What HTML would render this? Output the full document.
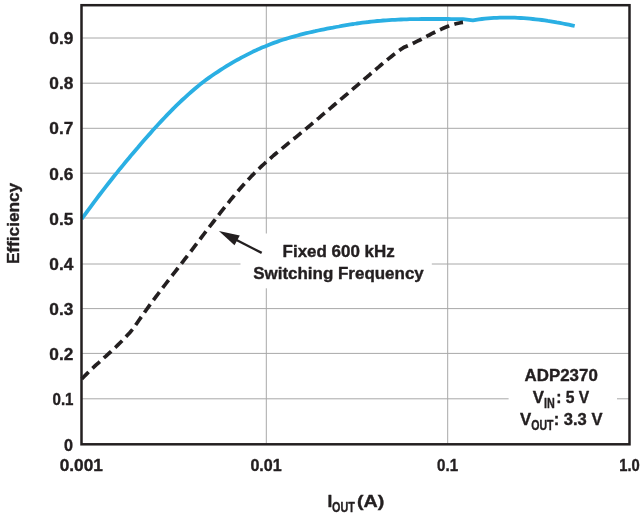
<!DOCTYPE html>
<html lang="en"><head><meta charset="utf-8"><title>ADP2370 Efficiency vs. Output Current</title>
<style>html,body{margin:0;padding:0;background:#fff;}body{width:644px;height:520px;overflow:hidden;}svg{display:block;}</style></head><body>
<svg width="644" height="520" viewBox="0 0 644 520">
<rect width="644" height="520" fill="#fff"/>
<g stroke="#a8a8a8" stroke-width="1" fill="none">
<line x1="81.5" y1="398.8" x2="629.5" y2="398.8"/>
<line x1="81.5" y1="353.4" x2="629.5" y2="353.4"/>
<line x1="81.5" y1="308.6" x2="629.5" y2="308.6"/>
<line x1="81.5" y1="264.0" x2="629.5" y2="264.0"/>
<line x1="81.5" y1="218.0" x2="629.5" y2="218.0"/>
<line x1="81.5" y1="173.2" x2="629.5" y2="173.2"/>
<line x1="81.5" y1="128.3" x2="629.5" y2="128.3"/>
<line x1="81.5" y1="83.2" x2="629.5" y2="83.2"/>
<line x1="81.5" y1="38.0" x2="629.5" y2="38.0"/>
<line x1="266.3" y1="5.2" x2="266.3" y2="444.3"/>
<line x1="447.7" y1="5.2" x2="447.7" y2="444.3"/>
</g>
<rect x="240.5" y="233.5" width="191.3" height="54.8" fill="#fff"/>
<rect x="508.6" y="362" width="108.4" height="72" fill="#fff"/>
<path d="M81.7,219.0 L84.7,214.9 L87.6,210.8 L90.6,206.8 L93.5,202.8 L96.5,198.9 L99.4,195.0 L102.4,191.1 L105.3,187.3 L108.3,183.5 L111.3,179.7 L114.2,176.0 L117.2,172.4 L120.1,168.7 L123.1,165.1 L126.0,161.5 L129.0,158.0 L131.9,154.4 L134.9,150.9 L137.9,147.5 L140.8,144.0 L143.8,140.6 L146.7,137.2 L149.7,133.9 L152.6,130.5 L155.6,127.3 L158.6,124.0 L161.5,120.9 L164.5,117.7 L167.4,114.6 L170.4,111.6 L173.3,108.6 L176.3,105.7 L179.2,102.8 L182.2,100.0 L185.2,97.3 L188.1,94.6 L191.1,92.0 L194.0,89.5 L197.0,87.0 L199.9,84.6 L202.9,82.3 L205.8,80.1 L208.8,77.9 L211.8,75.8 L214.7,73.8 L217.7,71.8 L220.6,69.9 L223.6,68.0 L226.5,66.2 L229.5,64.4 L232.4,62.6 L235.4,60.9 L238.4,59.3 L241.3,57.6 L244.3,56.1 L247.2,54.6 L250.2,53.1 L253.1,51.6 L256.1,50.3 L259.0,48.9 L262.0,47.6 L265.0,46.4 L267.9,45.2 L270.9,44.0 L273.8,42.9 L276.8,41.9 L279.7,40.8 L282.7,39.8 L285.7,38.9 L288.6,38.0 L291.6,37.1 L294.5,36.3 L297.5,35.5 L300.4,34.7 L303.4,33.9 L306.3,33.2 L309.3,32.5 L312.3,31.8 L315.2,31.2 L318.2,30.5 L321.1,29.9 L324.1,29.3 L327.0,28.7 L330.0,28.1 L332.9,27.6 L335.9,27.0 L338.9,26.5 L341.8,25.9 L344.8,25.4 L347.7,24.9 L350.7,24.4 L353.6,24.0 L356.6,23.5 L359.5,23.1 L362.5,22.7 L365.5,22.3 L368.4,22.0 L371.4,21.6 L374.3,21.3 L377.3,21.0 L380.2,20.8 L383.2,20.5 L386.1,20.3 L389.1,20.1 L392.1,19.9 L395.0,19.8 L398.0,19.6 L400.9,19.5 L403.9,19.4 L406.8,19.3 L409.8,19.2 L412.8,19.2 L415.7,19.1 L418.7,19.1 L421.6,19.0 L424.6,19.0 L427.5,19.0 L430.5,19.0 L433.4,19.0 L436.4,19.0 L439.4,19.0 L442.3,19.0 L445.3,19.0 L448.2,19.0 L451.2,19.1 L454.1,19.1 L457.1,19.1 L460.0,19.1 L463.0,19.2 L472.9,20.3 L475.9,19.8 L478.9,19.4 L481.9,19.0 L484.9,18.7 L487.9,18.4 L490.9,18.1 L493.9,17.9 L496.9,17.8 L499.8,17.7 L502.8,17.6 L505.8,17.6 L508.8,17.6 L511.8,17.6 L514.8,17.7 L517.8,17.8 L520.8,18.0 L523.8,18.2 L526.8,18.4 L529.8,18.7 L532.8,19.0 L535.8,19.3 L538.8,19.6 L541.8,20.0 L544.8,20.4 L547.8,20.9 L550.7,21.3 L553.7,21.8 L556.7,22.4 L559.7,22.9 L562.7,23.5 L565.7,24.1 L568.7,24.7 L571.7,25.3 L574.7,26.0" fill="none" stroke="#2aafe3" stroke-width="3.8" stroke-linejoin="round"/>
<path d="M81.7,379.0 L84.1,376.5 L86.5,374.1 L88.9,371.7 L91.3,369.4 L93.7,367.2 L96.1,364.9 L98.5,362.8 L100.9,360.6 L103.3,358.4 L105.7,356.3 L108.1,354.1 L110.5,352.0 L112.9,349.7 L115.3,347.5 L117.7,345.2 L120.1,342.8 L122.5,340.4 L124.9,337.9 L127.3,335.3 L129.7,332.7 L132.1,329.9 L133.3,328.4 L134.5,326.7 L136.9,323.2 L139.3,319.8 L141.7,316.4 L144.1,313.0 L146.4,309.7 L148.8,306.4 L151.2,303.1 L153.6,299.9 L156.0,296.7 L158.4,293.5 L160.8,290.3 L163.2,287.2 L165.6,284.0 L168.0,280.9 L170.4,277.8 L172.8,274.7 L175.2,271.6 L177.6,268.5 L180.0,265.4 L182.4,262.3 L184.8,259.2 L187.2,256.1 L189.6,252.9 L192.0,249.8 L194.4,246.7 L196.8,243.5 L199.2,240.4 L201.6,237.2 L204.0,234.0 L206.4,230.9 L208.8,227.7 L211.2,224.6 L213.6,221.5 L216.0,218.4 L218.4,215.3 L220.8,212.2 L223.2,209.2 L225.6,206.1 L228.0,203.2 L230.4,200.2 L232.8,197.3 L235.2,194.4 L237.6,191.6 L240.0,188.8 L242.4,186.1 L244.8,183.4 L247.2,180.7 L249.6,178.2 L252.0,175.6 L254.4,173.2 L256.8,170.8 L259.2,168.5 L261.6,166.2 L264.0,164.0 L266.4,161.8 L268.8,159.7 L271.2,157.6 L273.5,155.5 L275.9,153.5 L278.3,151.5 L280.7,149.5 L283.1,147.6 L285.5,145.6 L287.9,143.6 L290.3,141.7 L292.7,139.7 L295.1,137.8 L297.5,135.8 L299.9,133.8 L302.3,131.8 L304.7,129.9 L307.1,127.9 L309.5,125.8 L311.9,123.8 L314.3,121.8 L316.7,119.8 L319.1,117.8 L321.5,115.7 L323.9,113.7 L326.3,111.7 L328.7,109.6 L331.1,107.6 L333.5,105.5 L335.9,103.5 L338.3,101.5 L340.7,99.4 L343.1,97.4 L345.5,95.3 L347.9,93.3 L350.3,91.2 L352.7,89.2 L355.1,87.1 L357.5,85.1 L359.9,83.0 L362.3,81.0 L364.7,78.9 L367.1,76.9 L369.5,74.8 L371.9,72.7 L374.3,70.7 L376.7,68.6 L379.1,66.6 L381.5,64.5 L383.9,62.5 L386.3,60.6 L388.7,58.6 L391.1,56.7 L393.5,54.8 L395.9,53.0 L398.3,51.3 L400.6,49.6 L403.0,47.9 L404.0,47.3 L405.4,46.7 L407.8,45.7 L410.2,44.7 L412.6,43.6 L415.0,42.4 L417.4,41.2 L419.8,40.0 L422.2,38.7 L424.6,37.5 L427.0,36.2 L429.4,35.0 L431.8,33.7 L434.2,32.5 L436.6,31.3 L439.0,30.2 L441.4,29.1 L443.8,28.0 L446.2,27.0 L448.6,26.1 L451.0,25.2 L453.4,24.5 L455.8,23.8 L458.2,23.2 L460.6,22.7 L463.0,22.4" fill="none" stroke="#231f20" stroke-width="3.7" stroke-dasharray="9.9 5.41" stroke-dashoffset="0.1" stroke-linejoin="round"/>
<rect x="81.5" y="5.2" width="548.0" height="439.1" fill="none" stroke="#231f20" stroke-width="2.5"/>
<line x1="261.7" y1="252.9" x2="236" y2="239.8" stroke="#231f20" stroke-width="2.4"/>
<polygon points="218.9,231.1 239.8,235.5 234.5,245.2" fill="#231f20"/>
<g font-family="'Liberation Sans', sans-serif" font-weight="bold" font-size="17.3" fill="#231f20" stroke="#231f20" stroke-width="0.4" stroke-linejoin="round">
<text x="49.3" y="360.0" textLength="24.0" lengthAdjust="spacingAndGlyphs">0.2</text>
<text x="49.3" y="314.9" textLength="24.0" lengthAdjust="spacingAndGlyphs">0.3</text>
<text x="49.3" y="269.8" textLength="24.0" lengthAdjust="spacingAndGlyphs">0.4</text>
<text x="49.3" y="224.7" textLength="24.0" lengthAdjust="spacingAndGlyphs">0.5</text>
<text x="49.3" y="179.5" textLength="24.0" lengthAdjust="spacingAndGlyphs">0.6</text>
<text x="49.3" y="134.4" textLength="24.0" lengthAdjust="spacingAndGlyphs">0.7</text>
<text x="49.3" y="89.3" textLength="24.0" lengthAdjust="spacingAndGlyphs">0.8</text>
<text x="49.3" y="44.2" textLength="24.0" lengthAdjust="spacingAndGlyphs">0.9</text>
<text x="52.5" y="405.1" textLength="21.0" lengthAdjust="spacingAndGlyphs">0.1</text>
<text x="63.9" y="451.1" textLength="9.0" lengthAdjust="spacingAndGlyphs">0</text>
<text x="59.7" y="471.2" textLength="43.2" lengthAdjust="spacingAndGlyphs">0.001</text>
<text x="250.4" y="471.2" textLength="31.3" lengthAdjust="spacingAndGlyphs">0.01</text>
<text x="437.1" y="471.2" textLength="21.0" lengthAdjust="spacingAndGlyphs">0.1</text>
<text x="619.3" y="471.2" textLength="20.5" lengthAdjust="spacingAndGlyphs">1.0</text>
<text transform="translate(18.9,264.1) rotate(-90)" textLength="81.2" lengthAdjust="spacingAndGlyphs">Efficiency</text>
<text x="327.4" y="506.9">I</text>
<text x="332.0" y="511.6" font-size="14.3" textLength="22.8" lengthAdjust="spacingAndGlyphs">OUT</text>
<text x="356.9" y="506.9" textLength="27.3" lengthAdjust="spacingAndGlyphs">(A)</text>
<text x="282.6" y="257.4" textLength="112.2" lengthAdjust="spacingAndGlyphs">Fixed 600 kHz</text>
<text x="253.2" y="279.3" textLength="170.6" lengthAdjust="spacingAndGlyphs">Switching Frequency</text>
<text x="524.6" y="381.1" textLength="73.2" lengthAdjust="spacingAndGlyphs">ADP2370</text>
<text x="532.8" y="403.1" textLength="11.2" lengthAdjust="spacingAndGlyphs">V</text>
<text x="544.0" y="407.9" font-size="14.3" textLength="10.8" lengthAdjust="spacingAndGlyphs">IN</text>
<text x="556.2" y="403.1" textLength="33.0" lengthAdjust="spacingAndGlyphs">: 5 V</text>
<text x="520.0" y="425.0" textLength="11.2" lengthAdjust="spacingAndGlyphs">V</text>
<text x="531.2" y="429.8" font-size="14.3" textLength="22.3" lengthAdjust="spacingAndGlyphs">OUT</text>
<text x="553.7" y="425.0" textLength="48.8" lengthAdjust="spacingAndGlyphs">: 3.3 V</text>
</g>
</svg></body></html>
